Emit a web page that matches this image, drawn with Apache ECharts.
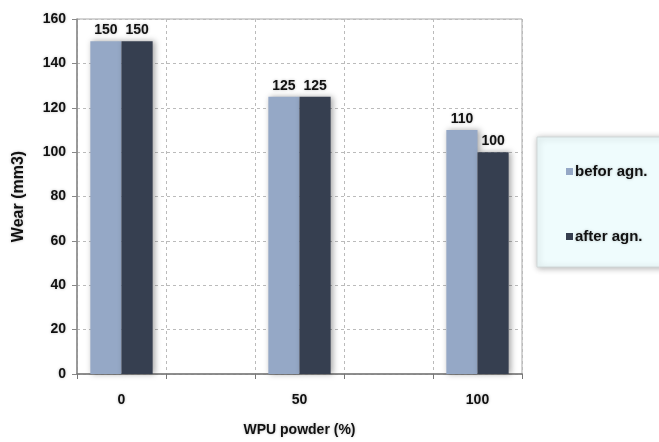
<!DOCTYPE html>
<html><head><meta charset="utf-8">
<script src="https://cdn.jsdelivr.net/npm/echarts@6/dist/echarts.min.js"></script>
<style>html,body{margin:0;padding:0;background:#fff}#c{width:659px;height:442px}</style>
</head><body><div id="c"></div>
<script>
var categories = ['0', '', '50', '', '100'];
var beforeAgn = [150, null, 125, null, 110];
var afterAgn = [150, null, 125, null, 100];
var seriesNames = ['befor agn.', 'after agn.'];
var yTicks = {min: 0, max: 160, interval: 20};

var font = '"Liberation Sans", Arial, sans-serif';
var glow = {textShadowColor: 'rgba(0,0,0,0.25)', textShadowBlur: 3};
var chart = echarts.init(document.getElementById('c'));
chart.setOption({
  animation: false,
  backgroundColor: '#fff',
  graphic: [{
    type: 'rect', z: 0,
    shape: {x: 537, y: 137, width: 140, height: 130},
    style: {fill: '#effcfd', stroke: '#d0d8d8', lineWidth: 1, shadowBlur: 6, shadowColor: 'rgba(0,0,0,0.3)', shadowOffsetX: 1, shadowOffsetY: 1}
  }],
  grid: {left: 77, right: 137, top: 19, bottom: 66, show: true, borderColor: '#a8a8a8', borderWidth: 1, backgroundColor: '#fff'},
  legend: {
    orient: 'vertical', left: 561, top: 159, itemGap: 50, itemWidth: 7, itemHeight: 7, icon: 'rect',
    data: seriesNames,
    textStyle: Object.assign({fontFamily: font, fontWeight: 'bold', fontSize: 15, color: '#111', padding: [0, 0, 0, -3]}, glow)
  },
  xAxis: {
    type: 'category', data: categories,
    name: 'WPU powder (%)', nameLocation: 'middle', nameGap: 49,
    nameTextStyle: Object.assign({fontFamily: font, fontWeight: 'bold', fontSize: 14, color: '#111'}, glow),
    axisLine: {lineStyle: {color: '#777', width: 1.5}},
    axisTick: {show: true, interval: 0, length: 5, lineStyle: {color: '#777'}},
    axisLabel: Object.assign({interval: 0, margin: 19, fontFamily: font, fontWeight: 'bold', fontSize: 14, color: '#111'}, glow),
    splitLine: {show: true, interval: 0, lineStyle: {color: '#bbb', type: [3, 3]}}
  },
  yAxis: {
    type: 'value', min: yTicks.min, max: yTicks.max, interval: yTicks.interval,
    name: 'Wear (mm3)', nameLocation: 'middle', nameGap: 50,
    nameTextStyle: Object.assign({fontFamily: font, fontWeight: 'bold', fontSize: 16, color: '#111'}, glow),
    axisLine: {show: true, lineStyle: {color: '#888', width: 1.5}},
    axisTick: {show: true, length: 5, lineStyle: {color: '#888'}},
    axisLabel: Object.assign({margin: 11, fontFamily: font, fontWeight: 'bold', fontSize: 14, color: '#111'}, glow),
    splitLine: {show: true, lineStyle: {color: '#bbb', type: [3, 3]}}
  },
  series: [{
    name: seriesNames[0], type: 'bar', data: beforeAgn, barGap: '0%', barCategoryGap: '30%',
    itemStyle: {color: '#95a8c6', shadowBlur: 6, shadowColor: 'rgba(0,0,0,0.35)', shadowOffsetX: 2, shadowOffsetY: 0},
    label: Object.assign({show: true, position: 'top', distance: 4, fontFamily: font, fontWeight: 'bold', fontSize: 14, color: '#111'}, glow)
  }, {
    name: seriesNames[1], type: 'bar', data: afterAgn,
    itemStyle: {color: '#363f50', shadowBlur: 6, shadowColor: 'rgba(0,0,0,0.35)', shadowOffsetX: 2, shadowOffsetY: 0},
    label: Object.assign({show: true, position: 'top', distance: 4, fontFamily: font, fontWeight: 'bold', fontSize: 14, color: '#111'}, glow)
  }]
});
</script></body></html>
